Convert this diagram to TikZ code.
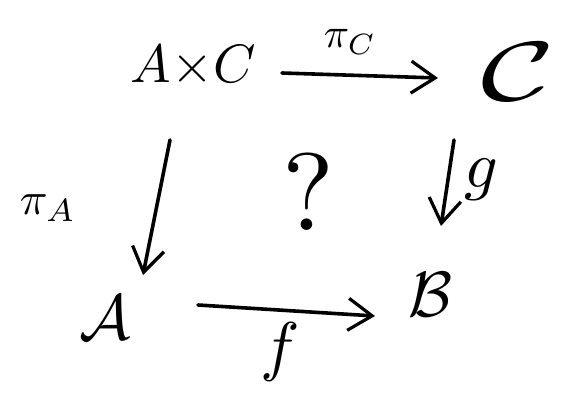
\documentclass[tikz,border=0pt]{standalone}
\usetikzlibrary{arrows.meta}
\begin{document}
\begin{tikzpicture}[x=1pt,y=-1pt,
  obj/.style={inner sep=0pt},
  lbl/.style={inner sep=0pt},
  arr/.style={line width=3.6pt,line cap=round,
    -{Straight Barb[length=24pt,width=32pt,line width=3.2pt]}}]
\useasboundingbox (0,0) rectangle (582,415);
\fill[white] (0,0) rectangle (582,415);
% objects
\node[obj,scale=5.4] (axc) at (193,66) {$A{\times}C$};
\node[obj,scale=8.4,xscale=1.5] (c)   at (518,72) {$\mathcal{C}$};
\node[obj,scale=6.4] (a)   at (105,318) {$\mathcal{A}$};
\node[obj,scale=6.4] (b)   at (430,295) {$\mathcal{B}$};
\node[obj,scale=11] (q)   at (308,192) {?};
% labels
\node[lbl,scale=4.2] (piC) at (350,42) {$\pi_{C}$};
\node[lbl,scale=4.6] (piA) at (48,208) {$\pi_{A}$};
\node[lbl,scale=6.6] (g)   at (481,180) {$g$};
\node[lbl,scale=6.6] (f)   at (280,352) {$f$};
% arrows
\draw[arr] ([shift={(89,7)}]axc.center) -- ([shift={(-80,6)}]c.center);
\draw[arr] ([shift={(-23,74)}]axc.center) -- ([shift={(38,-43)}]a.center);
\draw[arr] ([shift={(-64,68)}]c.center) -- ([shift={(11,-69)}]b.center);
\draw[arr] ([shift={(93,-13)}]a.center) -- ([shift={(-55,21)}]b.center);
\end{tikzpicture}
\end{document}
